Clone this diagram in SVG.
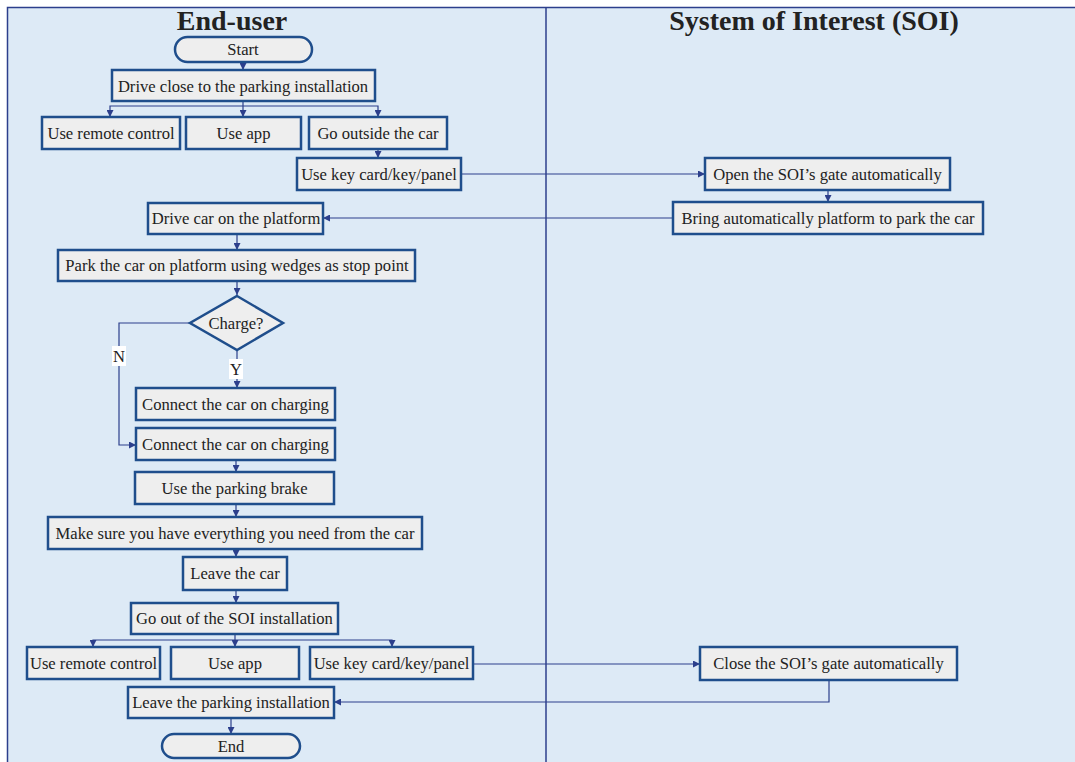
<svg xmlns="http://www.w3.org/2000/svg" width="1075" height="762" viewBox="0 0 1075 762">
<defs>
<style>
.bg{fill:#ddeaf6;stroke:#2c3f8c;stroke-width:1.5}
.box{fill:#eeeeee;stroke:#1f4e8c;stroke-width:2.5}
.t{font-family:"Liberation Serif","Times New Roman",serif;font-size:16.6px;fill:#222;text-anchor:middle;dominant-baseline:central}
.h{font-family:"Liberation Serif","Times New Roman",serif;font-size:28px;font-weight:bold;fill:#222;text-anchor:middle}
.c{fill:none;stroke:#2c3f8c;stroke-width:1.2}
.lbl{fill:#ffffff}
</style>
<marker id="a" viewBox="0 0 10 10" refX="10" refY="5" markerWidth="7" markerHeight="7" markerUnits="userSpaceOnUse" orient="auto">
<path d="M0,0 L10,5 L0,10 z" fill="#2c3f8c"/>
</marker>
</defs>
<rect x="0" y="0" width="1075" height="762" fill="#ffffff"/>
<rect class="bg" x="7.5" y="7.5" width="1080" height="770"/>
<line x1="546" y1="7" x2="546" y2="762" stroke="#2c3f8c" stroke-width="1.5"/>
<text class="h" x="232" y="30">End-user</text>
<text class="h" x="814" y="30">System of Interest (SOI)</text>

<g id="connectors">
<path class="c" d="M243,62 V70" marker-end="url(#a)"/>
<path class="c" d="M243,101 V117" marker-end="url(#a)"/>
<path class="c" d="M243,106 H110 V117" marker-end="url(#a)"/>
<path class="c" d="M243,106 H378 V117" marker-end="url(#a)"/>
<path class="c" d="M378,149 V158" marker-end="url(#a)"/>
<path class="c" d="M461,174 H705" marker-end="url(#a)"/>
<path class="c" d="M828,190 V202" marker-end="url(#a)"/>
<path class="c" d="M673,218 H323" marker-end="url(#a)"/>
<path class="c" d="M237,234 V250" marker-end="url(#a)"/>
<path class="c" d="M237,281 V295" marker-end="url(#a)"/>
<path class="c" d="M237,350 V388" marker-end="url(#a)"/>
<path class="c" d="M190,323 H119 V445 H136" marker-end="url(#a)"/>
<path class="c" d="M236,460 V472" marker-end="url(#a)"/>
<path class="c" d="M236,504 V517" marker-end="url(#a)"/>
<path class="c" d="M236,549 V557" marker-end="url(#a)"/>
<path class="c" d="M236,590 V603" marker-end="url(#a)"/>
<path class="c" d="M235,634 V647" marker-end="url(#a)"/>
<path class="c" d="M235,640 H93 V647" marker-end="url(#a)"/>
<path class="c" d="M235,640 H392 V647" marker-end="url(#a)"/>
<path class="c" d="M473,664 H700" marker-end="url(#a)"/>
<path class="c" d="M829,680 V702 H334" marker-end="url(#a)"/>
<path class="c" d="M231,718 V734" marker-end="url(#a)"/>
<rect class="lbl" x="112" y="346" width="14" height="20"/>
<text class="t" x="119" y="356">N</text>
<rect class="lbl" x="229" y="359" width="14" height="20"/>
<text class="t" x="236" y="369">Y</text>
</g>

<g id="start"><rect class="box" x="175" y="37" width="137" height="25" rx="12.5"/><text class="t" x="243" y="49.5">Start</text></g>
<g id="drive-close"><rect class="box" x="112" y="70" width="263" height="31"/><text class="t" x="243" y="86">Drive close to the parking installation</text></g>
<g id="remote1"><rect class="box" x="42" y="117" width="138" height="32"/><text class="t" x="111" y="133">Use remote control</text></g>
<g id="app1"><rect class="box" x="186" y="117" width="115" height="32"/><text class="t" x="243.5" y="133">Use app</text></g>
<g id="outside"><rect class="box" x="309" y="117" width="138" height="32"/><text class="t" x="378" y="133">Go outside the car</text></g>
<g id="keycard1"><rect class="box" x="297" y="158" width="164" height="32"/><text class="t" x="379" y="174">Use key card/key/panel</text></g>
<g id="open-gate"><rect class="box" x="705" y="158" width="245" height="32"/><text class="t" x="827.5" y="174">Open the SOI’s gate automatically</text></g>
<g id="bring"><rect class="box" x="673" y="202" width="310" height="32"/><text class="t" x="828" y="218">Bring automatically platform to park the car</text></g>
<g id="drive-car"><rect class="box" x="148" y="203" width="175" height="31"/><text class="t" x="236" y="218.5">Drive car on the platform</text></g>
<g id="park"><rect class="box" x="58" y="250" width="357" height="31"/><text class="t" x="237" y="265.5">Park the car on platform using wedges as stop point</text></g>
<g id="charge"><polygon class="box" points="237,296 283,323 237,350 190,323"/><text class="t" x="236" y="323">Charge?</text></g>
<g id="connect1"><rect class="box" x="136" y="388" width="199" height="32"/><text class="t" x="235.5" y="404">Connect the car on charging</text></g>
<g id="connect2"><rect class="box" x="136" y="428" width="199" height="32"/><text class="t" x="235.5" y="444">Connect the car on charging</text></g>
<g id="brake"><rect class="box" x="135" y="472" width="199" height="32"/><text class="t" x="234.5" y="488">Use the parking brake</text></g>
<g id="make-sure"><rect class="box" x="48" y="517" width="374" height="32"/><text class="t" x="235" y="533">Make sure you have everything you need from the car</text></g>
<g id="leave-car"><rect class="box" x="183" y="557" width="104" height="33"/><text class="t" x="235" y="573.5">Leave the car</text></g>
<g id="go-out"><rect class="box" x="131" y="603" width="207" height="31"/><text class="t" x="234.5" y="618.5">Go out of the SOI installation</text></g>
<g id="remote2"><rect class="box" x="27" y="647" width="133" height="32"/><text class="t" x="93.5" y="663">Use remote control</text></g>
<g id="app2"><rect class="box" x="171" y="647" width="128" height="32"/><text class="t" x="235" y="663">Use app</text></g>
<g id="keycard2"><rect class="box" x="310" y="647" width="163" height="32"/><text class="t" x="391.5" y="663">Use key card/key/panel</text></g>
<g id="close-gate"><rect class="box" x="700" y="647" width="257" height="33"/><text class="t" x="828.5" y="663.5">Close the SOI’s gate automatically</text></g>
<g id="leave-parking"><rect class="box" x="128" y="687" width="206" height="31"/><text class="t" x="231" y="702.5">Leave the parking installation</text></g>
<g id="end"><rect class="box" x="162" y="734" width="138" height="24" rx="12"/><text class="t" x="231" y="746">End</text></g>
</svg>
